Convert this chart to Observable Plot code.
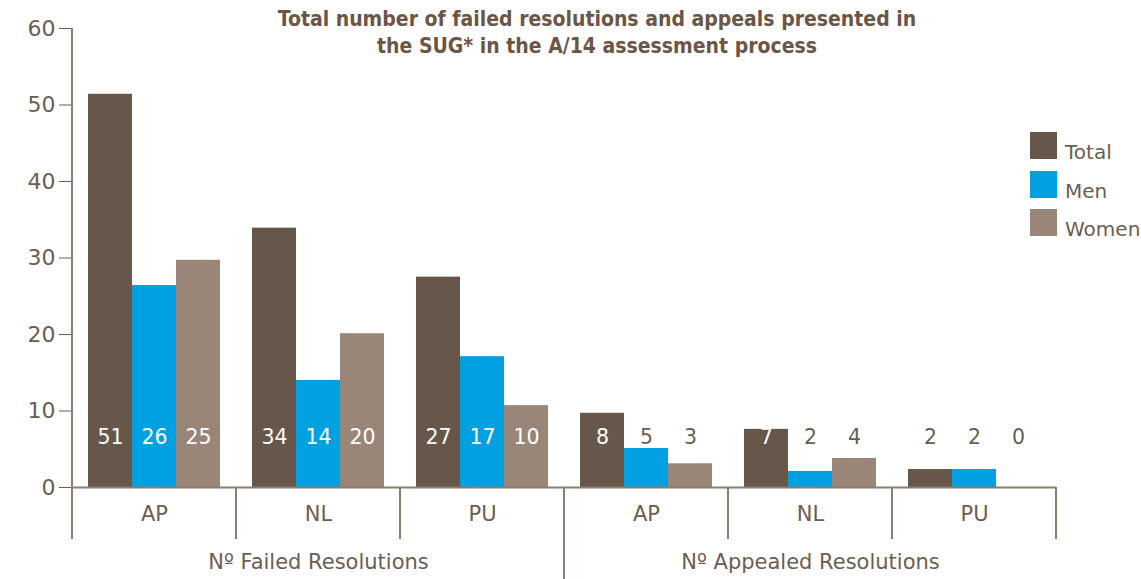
<!DOCTYPE html>
<html>
<head>
<meta charset="utf-8">
<script src="https://cdn.jsdelivr.net/npm/d3@7"></script>
<script src="https://cdn.jsdelivr.net/npm/@observablehq/plot@0.6"></script>
<style>
  html, body { margin: 0; padding: 0; background: #fff; }
  #wrap { position: relative; width: 1141px; height: 579px; font-family: "DejaVu Sans", sans-serif; }
  #title { position: absolute; left: 220px; width: 754px; top: 6px; text-align: center;
    font-family: "DejaVu Sans Condensed", "DejaVu Sans", sans-serif; font-weight: bold; font-stretch: condensed;
    font-size: 21px; line-height: 27px; color: #6b5646; }
  #legend { position: absolute; left: 1030px; top: 132px; }
  .item { display: flex; align-items: flex-start; height: 38.5px; }
  .sw { width: 27px; height: 27px; }
  .lab { margin-left: 8px; margin-top: 7px; font-size: 20px; color: #6b5d52; line-height: 26px; white-space: nowrap; }
</style>
</head>
<body>
<div id="wrap">
  <div id="chart"></div>
  <div id="title">Total number of failed resolutions and appeals presented in<br>the SUG* in the A/14 assessment process</div>
  <div id="legend"></div>
</div>
<script>
const groups = ["Nº Failed Resolutions", "Nº Appealed Resolutions"];
const categories = ["AP", "NL", "PU"];
const series = ["Total", "Men", "Women"];
const colors = ["#67564a", "#00a0e1", "#9a8679"];
const yTicks = [0, 10, 20, 30, 40, 50, 60];

// bar heights as drawn
const failedTotal = [51.4, 33.9, 27.5];
const failedMen = [26.4, 14.0, 17.1];
const failedWomen = [29.7, 20.1, 10.7];
const appealedTotal = [9.7, 7.6, 2.35];
const appealedMen = [5.1, 2.1, 2.35];
const appealedWomen = [3.1, 3.8, 0];

// printed value labels
const failedTotalLabels = [51, 34, 27];
const failedMenLabels = [26, 14, 17];
const failedWomenLabels = [25, 20, 10];
const appealedTotalLabels = [8, 7, 2];
const appealedMenLabels = [5, 2, 2];
const appealedWomenLabels = [3, 4, 0];

const heights = [[failedTotal, failedMen, failedWomen], [appealedTotal, appealedMen, appealedWomen]];
const labels = [[failedTotalLabels, failedMenLabels, failedWomenLabels], [appealedTotalLabels, appealedMenLabels, appealedWomenLabels]];

const keys = [];
const rows = [];
const catRows = [];
groups.forEach((g, gi) => {
  categories.forEach((c, ci) => {
    const key = g + "|" + c;
    keys.push(key);
    catRows.push({key, cat: c});
    series.forEach((s, si) => {
      rows.push({key, group: g, cat: c, series: s, value: heights[gi][si][ci], label: String(labels[gi][si][ci])});
    });
  });
});
const groupRows = groups.map(g => ({key: g + "|" + categories[1], group: g}));

const ink = "#6b5d52";
const lineColor = "#8c7d70";
const labelFont = 20.5;
const inside = d => d.value > 7;

const chart = Plot.plot({
  width: 1141,
  height: 579,
  marginTop: 28,
  marginBottom: 92,
  marginLeft: 70,
  marginRight: 84,
  style: {fontFamily: '"DejaVu Sans", sans-serif', fontSize: "22px", color: ink, background: "transparent"},
  fx: {domain: keys, padding: 0, axis: null},
  x: {domain: series, paddingInner: 0, paddingOuter: 0.35, axis: null},
  y: {domain: [0, 60], ticks: yTicks, tickSize: 13, tickPadding: 4, label: null},
  color: {domain: series, range: colors},
  marks: [
    Plot.barY(rows, {fx: "key", x: "series", y: "value", fill: "series"}),
    Plot.ruleY([0], {stroke: lineColor, strokeWidth: 2}),
    Plot.text(rows, {filter: inside, fx: "key", x: "series", text: "label", frameAnchor: "bottom", dy: -44, fill: "white", fontSize: labelFont}),
    Plot.text(rows, {filter: d => !inside(d), fx: "key", x: "series", text: "label", frameAnchor: "bottom", dy: -44, fill: ink, fontSize: labelFont}),
    Plot.text(catRows, {fx: "key", text: "cat", frameAnchor: "bottom", dy: 33, fill: ink, fontSize: 21}),
    Plot.text(groupRows, {fx: "key", text: "group", frameAnchor: "bottom", dy: 81, fill: ink, fontSize: 21})
  ]
});
document.getElementById("chart").appendChild(chart);

// separators and axis line derived from the Plot scales
const fx = chart.scale("fx");
const ys = chart.scale("y");
const svg = d3.select(chart);
const y0 = ys.apply(0);
const sepBottom = y0 + 52;
const g = svg.append("g").attr("stroke", lineColor).attr("stroke-width", 2);
const x0 = fx.apply(keys[0]);
g.append("line").attr("x1", x0).attr("x2", x0).attr("y1", ys.apply(60)).attr("y2", sepBottom);
keys.forEach((k, i) => {
  const xr = fx.apply(k) + fx.bandwidth;
  const isGroupEnd = i === categories.length - 1;
  g.append("line").attr("x1", xr).attr("x2", xr).attr("y1", y0).attr("y2", isGroupEnd ? 579 : sepBottom);
});

// legend
const legend = d3.select("#legend");
series.forEach((s, i) => {
  const item = legend.append("div").attr("class", "item");
  item.append("div").attr("class", "sw").style("background", colors[i]);
  item.append("div").attr("class", "lab").text(s);
});
</script>
</body>
</html>
